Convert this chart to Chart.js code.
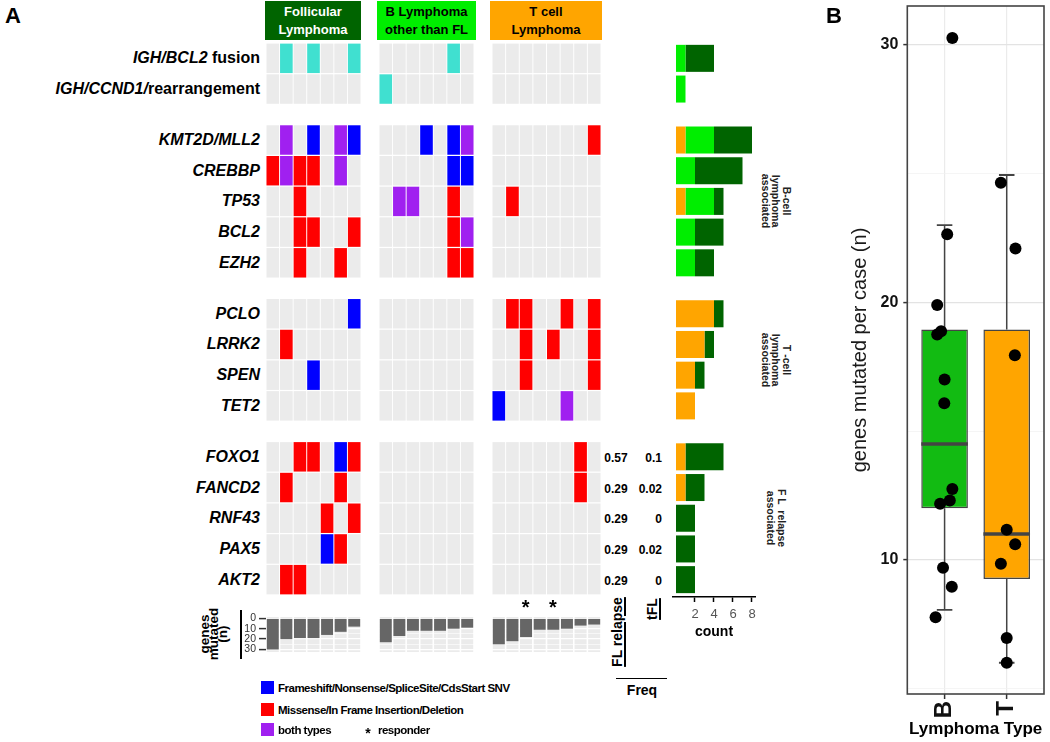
<!DOCTYPE html>
<html><head><meta charset="utf-8">
<script src="https://cdn.jsdelivr.net/npm/chart.js@4/dist/chart.umd.min.js"></script>
<style>
body{margin:0;background:#fff;width:1050px;height:742px;overflow:hidden;position:relative;font-family:"Liberation Sans",Arial,sans-serif;}
.t{position:absolute;white-space:pre;line-height:1;}
canvas{position:absolute;}
.box{position:absolute;display:flex;align-items:center;justify-content:center;text-align:center;font-weight:bold;font-size:13px;line-height:18px;white-space:pre;}
</style></head><body>
<script>
// ---------------- DATA ----------------
const geneRows = ['IGH/BCL2','IGH/CCND1/','KMT2D/MLL2','CREBBP','TP53','BCL2','EZH2','PCLO','LRRK2','SPEN','TET2','FOXO1','FANCD2','RNF43','PAX5','AKT2'];
const geneSuffix = [' fusion','rearrangement','','','','','','','','','','','','','',''];
const sectionSizes = [2,5,4,5];
const sectionLabels = ['', 'B-cell\nlymphoma\nassociated', 'T -cell\nlymphoma\nassociated', 'F L  relapse\nassociated'];
const groupNames = ['Follicular\nLymphoma','B Lymphoma\nother than FL','T cell\nLymphoma'];
// codes: 0 none, 1 Frameshift/Nonsense/SpliceSite/CdsStart SNV, 2 Missense/In Frame Insertion/Deletion, 3 both types, 4 fusion/rearrangement
const flMatrix = [
  [0,4,0,4,0,0,4],[0,0,0,0,0,0,0],
  [0,3,0,1,0,3,1],[2,3,2,2,0,3,0],[0,0,2,0,0,0,0],[0,0,2,2,0,0,2],[0,0,2,0,0,2,0],
  [0,0,0,0,0,0,1],[0,2,0,0,0,0,0],[0,0,0,1,0,0,0],[0,0,0,0,0,0,0],
  [0,0,2,2,0,1,2],[0,2,0,0,0,2,0],[0,0,0,0,2,0,2],[0,0,0,0,1,2,0],[0,2,2,0,0,0,0]
];
const bOtherMatrix = [
  [0,0,0,0,0,4,0],[4,0,0,0,0,0,0],
  [0,0,0,1,0,1,3],[0,0,0,0,0,1,1],[0,3,3,0,0,2,0],[0,0,0,0,0,2,3],[0,0,0,0,0,2,2],
  [0,0,0,0,0,0,0],[0,0,0,0,0,0,0],[0,0,0,0,0,0,0],[0,0,0,0,0,0,0],
  [0,0,0,0,0,0,0],[0,0,0,0,0,0,0],[0,0,0,0,0,0,0],[0,0,0,0,0,0,0],[0,0,0,0,0,0,0]
];
const tMatrix = [
  [0,0,0,0,0,0,0,0],[0,0,0,0,0,0,0,0],
  [0,0,0,0,0,0,0,2],[0,0,0,0,0,0,0,0],[0,2,0,0,0,0,0,0],[0,0,0,0,0,0,0,0],[0,0,0,0,0,0,0,0],
  [0,2,2,0,0,2,0,2],[0,0,2,0,2,0,0,2],[0,0,2,0,0,0,0,2],[1,0,0,0,0,3,0,0],
  [0,0,0,0,0,0,2,0],[0,0,0,0,0,0,2,0],[0,0,0,0,0,0,0,0],[0,0,0,0,0,0,0,0],[0,0,0,0,0,0,0,0]
];
const genesMutatedFL = [30,20,19,19,16,13,8];
const genesMutatedBOther = [23,17,12,12,12,10,9];
const genesMutatedT = [25,22,18,11,11,10,7,6];
const responderColsT = [3,5];
const freqRelapse = ['0.57','0.29','0.29','0.29','0.29'];
const freqTFL = ['0.1','0.02','0','0.02','0'];
const countTicks = [2,4,6,8];
const genesTicks = [0,5,10,15,20,25,30];
const legendItems = ['Frameshift/Nonsense/SpliceSite/CdsStart SNV','Missense/In Frame Insertion/Deletion','both types'];

// Panel B
const typeLabels = ['B','T'];
const bPointsY = [30.27,22.65,19.9,18.88,18.75,17.0,16.08,12.75,12.3,12.18,9.69,8.95,7.77];
const bPointsJit = [0.125,0.042,-0.119,-0.056,-0.119,0.0,-0.005,0.125,0.084,-0.072,-0.025,0.116,-0.145];
const tPointsY = [24.65,22.09,17.95,11.17,10.6,9.85,6.96,6.0];
const tPointsJit = [-0.094,0.141,0.131,0.0,0.136,-0.094,0.0,0.0];
const boxB = [8.05,12.0,14.5,18.95,23.0];   // lower whisker, q1, median, q3, upper whisker
const boxT = [6.0,9.25,11.0,18.95,24.95];
const bYTicks = [5,10,15,20,25,30];

// ---------------- STYLE / LAYOUT ----------------
Chart.defaults.font.family = '"Liberation Sans", Arial, sans-serif';
const CODE_COLORS = ['#ebebeb','#0000ff','#ff0000','#a020f0','#40e0d0'];
const GROUP_COLORS = ['#006400','#00ee00','#ffa500'];
const ROW_PX = 30.7, GAP = 0.66, TOP = 43, COLW = 13.6;
const rowPos = [];
const sectionStart = [];
{ let u = 0; sectionSizes.forEach(n => { sectionStart.push(u); for (let k=0;k<n;k++){ rowPos.push(u); u += 1; } u += GAP; }); }
const totalUnits = rowPos[rowPos.length-1] + 1;
const groupLeft = [266, 378.7, 491.7];
const matrices = [flMatrix, bOtherMatrix, tMatrix];
const genesMut = [genesMutatedFL, genesMutatedBOther, genesMutatedT];

const base = {responsive:false, animation:false, devicePixelRatio:1, events:[],
  plugins:{legend:{display:false}, tooltip:{enabled:false}}};
const noPad = s => { s.paddingTop = 0; s.paddingBottom = 0; s.paddingLeft = 0; s.paddingRight = 0; };

function makeCanvas(left, top, w, h){
  const c = document.createElement('canvas');
  c.width = w; c.height = h;
  c.style.left = left+'px'; c.style.top = top+'px';
  c.style.width = w+'px'; c.style.height = h+'px';
  document.body.appendChild(c);
  return c;
}
function addText(html, o){
  const d = document.createElement('div');
  d.className = 't';
  d.innerHTML = html;
  const s = d.style;
  s.fontSize = (o.size||12)+'px';
  s.fontWeight = o.weight||'bold';
  s.color = o.color||'#000';
  if (o.lh) s.lineHeight = o.lh+'px';
  s.textAlign = o.align||'center';
  if (o.anchor === 'right'){ s.right = (1050-o.x)+'px'; s.top = o.y+'px'; s.transform = 'translateY(-50%)'; }
  else if (o.anchor === 'left'){ s.left = o.x+'px'; s.top = o.y+'px'; s.transform = 'translateY(-50%)'; }
  else { s.left = o.x+'px'; s.top = o.y+'px'; s.transform = 'translate(-50%,-50%) rotate('+(o.rot||0)+'deg)'; }
  if (o.extra) Object.assign(s, o.extra);
  document.body.appendChild(d);
  return d;
}
function addRect(left, top, w, h, color){
  const d = document.createElement('div');
  Object.assign(d.style, {position:'absolute', left:left+'px', top:top+'px', width:w+'px', height:h+'px', background:color});
  document.body.appendChild(d);
}

// ---------------- HEATMAPS ----------------
matrices.forEach((m, g) => {
  const ncol = m[0].length;
  const w = Math.round(ncol*COLW), h = Math.round(totalUnits*ROW_PX);
  const c = makeCanvas(groupLeft[g], TOP, w, h);
  new Chart(c, {
    type:'bar',
    data:{
      labels: m[0].map((_,i)=>String(i+1)),
      datasets: m.map((row, r) => ({
        data: row.map(() => [rowPos[r]+0.02, rowPos[r]+0.98]),
        backgroundColor: row.map(code => CODE_COLORS[code]),
        borderWidth:0, grouped:false, barPercentage:0.93, categoryPercentage:1
      }))
    },
    options:{...base, layout:{padding:0},
      scales:{ x:{display:false}, y:{display:false, min:0, max:h/ROW_PX, reverse:true} } }
  });
});

// ---------------- COUNT BAR CHART ----------------
{
  const countOf = (m) => m.map(row => row.filter(v => v>0).length);
  const cT = countOf(tMatrix), cB = countOf(bOtherMatrix), cF = countOf(flMatrix);
  const areaH = 554, axisH = 45, left = 672, w = 84;
  const xmin = -(676-left)/9.5, xmax = xmin + w/9.5;
  const c = makeCanvas(left, TOP, w, areaH+axisH);
  const seg = (a, b) => geneRows.map((_, i) => ({y: rowPos[i]+0.5, x: (b[i]>a[i]) ? [a[i], b[i]] : null}));
  const s1 = cT, s2 = cT.map((v,i)=>v+cB[i]), s3 = s2.map((v,i)=>v+cF[i]);
  const zero = cT.map(()=>0);
  const mk = (data, col) => ({data, backgroundColor:col, borderWidth:0, grouped:false, barPercentage:0.88, categoryPercentage:1});
  new Chart(c, {
    type:'bar',
    data:{ datasets:[ mk(seg(zero,s1), GROUP_COLORS[2]), mk(seg(s1,s2), GROUP_COLORS[1]), mk(seg(s2,s3), GROUP_COLORS[0]) ] },
    options:{...base, indexAxis:'y', layout:{padding:0},
      scales:{
        y:{type:'linear', display:false, offset:false, min:0, max:areaH/ROW_PX, reverse:true,
           afterBuildTicks: s => { s.ticks = [{value:0}]; }},
        x:{type:'linear', min:xmin, max:xmax, offset:false, position:'bottom',
           afterBuildTicks: s => { s.ticks = countTicks.map(v=>({value:v})); },
           afterFit: s => { s.height = axisH; noPad(s); },
           ticks:{color:'#555', font:{size:13}, padding:5, maxRotation:0, autoSkip:false},
           grid:{display:true, drawOnChartArea:false, drawTicks:true, tickLength:5, tickColor:'#000', tickWidth:1.5, offset:false},
           border:{display:true, color:'#000', width:1.5},
           title:{display:true, text:'count', color:'#000', font:{size:14, weight:'bold'}, padding:{top:0,bottom:1}}
        }
      }}
  });
}

// ---------------- GENES MUTATED BARS ----------------
const panelBg = {id:'panelBg', beforeDraw(chart){
  const {ctx, chartArea:a, scales:{x}} = chart;
  const n = chart.data.labels.length;
  const w = (a.right-a.left)/n;
  ctx.save(); ctx.fillStyle = '#ebebeb';
  for (let i=0;i<n;i++){ const cx = x.getPixelForValue(i); ctx.fillRect(cx-w/2+0.8, a.top, w-1.6, a.bottom-a.top); }
  ctx.restore();
}};
genesMut.forEach((vals, g) => {
  const ncol = vals.length;
  const axisW = g===0 ? 30 : 0;
  const padT = 8, padB = 8;
  const w = Math.round(ncol*COLW), h = 35, top = 617;
  const pxu = 1.04, ymin = -(618.3-top)/pxu, ymax = ymin + h/pxu;
  const c = makeCanvas(groupLeft[g]-axisW, top-padT, w+axisW, h+padT+padB);
  new Chart(c, {
    type:'bar',
    data:{ labels: vals.map((_,i)=>String(i+1)),
      datasets:[{data: vals, backgroundColor:'#666', borderWidth:0, barPercentage:0.88, categoryPercentage:1}] },
    options:{...base, layout:{padding:{top:padT, bottom:padB, left:0, right:0}},
      scales:{
        x:{display:false},
        y:{min:ymin, max:ymax, reverse:true,
           afterBuildTicks: s => { s.ticks = genesTicks.map(v=>({value:v})); },
           afterFit: s => { s.width = axisW; noPad(s); },
           ticks:{display: g===0, callback: v => (v%10===0 ? v : ''), color:'#333', font:{size:10.5}, padding:3, autoSkip:false},
           grid:{color:'#fff', lineWidth: ctx => (ctx.tick && ctx.tick.value%10===0) ? 1.2 : 0.6,
                 drawTicks: g===0, tickLength:7,
                 tickColor: ctx => (ctx.tick && ctx.tick.value%10===0) ? '#333' : 'rgba(0,0,0,0)', tickWidth:1.5},
           border:{display:false}
        }
      }},
    plugins:[panelBg]
  });
});

// ---------------- PANEL B ----------------
{
  const c = makeCanvas(820, 0, 230, 742);
  const frame = {id:'frame', afterDatasetsDraw(chart){
    const {ctx, chartArea:a} = chart; ctx.save(); ctx.strokeStyle='#444'; ctx.lineWidth=1.6;
    ctx.strokeRect(a.left, a.top, a.right-a.left, a.bottom-a.top); ctx.restore(); }};
  const boxStats = [boxB, boxT];
  const boxColors = ['#12bb12', GROUP_COLORS[2]];
  const line = (data, order, width) => ({type:'line', order, data, borderColor:'#444', borderWidth:width, pointRadius:0, borderCapStyle:'butt', fill:false});
  const ds = [];
  ds.push({type:'scatter', order:0,
    data: [...bPointsY.map((y,i)=>({x:1+bPointsJit[i], y})), ...tPointsY.map((y,i)=>({x:2+tPointsJit[i], y}))],
    backgroundColor:'#000', borderWidth:0, pointRadius:6});
  boxStats.forEach((s,g) => ds.push(line([{x:g+1-0.375,y:s[2]},{x:g+1+0.375,y:s[2]}], 1, 3.5)));
  ds.push({type:'bar', order:2, data: boxStats.map((s,g)=>({x:g+1, y:[s[1],s[3]]})),
    backgroundColor: boxColors, borderColor:'#444', borderWidth:1.5, borderSkipped:false, barPercentage:0.75, categoryPercentage:1});
  boxStats.forEach((s,g) => {
    ds.push(line([{x:g+1,y:s[3]},{x:g+1,y:s[4]}], 3, 1.5));
    ds.push(line([{x:g+1,y:s[1]},{x:g+1,y:s[0]}], 3, 1.5));
    ds.push(line([{x:g+1-0.125,y:s[4]},{x:g+1+0.125,y:s[4]}], 3, 1.8));
    ds.push(line([{x:g+1-0.125,y:s[0]},{x:g+1+0.125,y:s[0]}], 3, 1.8));
  });
  new Chart(c, {
    type:'bar',
    data:{datasets: ds},
    options:{...base, layout:{padding:{top:2, right:1, left:0, bottom:0}},
      scales:{
        x:{type:'linear', min:0.4, max:2.6, offset:false,
           afterBuildTicks: s => { s.ticks = [1,2].map(v=>({value:v})); },
           afterFit: s => { s.height = 48; noPad(s); },
           ticks:{callback: v => typeLabels[v-1], minRotation:90, maxRotation:90, autoSkip:false, color:'#111', font:{size:24, weight:'bold'}, padding:2},
           grid:{color:'#ebebeb', lineWidth:1.2, tickColor:'#333', tickLength:5, tickWidth:1.5, offset:false},
           border:{display:false},
           title:{display:true, text:'Lymphoma Type', color:'#000', font:{size:17, weight:'bold'}, padding:{top:0, bottom:2}}
        },
        y:{type:'linear', min:4.785, max:31.515,
           afterBuildTicks: s => { s.ticks = bYTicks.map(v=>({value:v})); },
           afterFit: s => { s.width = 87.3; noPad(s); },
           ticks:{callback: v => (v%10===0 ? v : ''), color:'#111', font:{size:16, weight:'bold'}, padding:5, autoSkip:false},
           grid:{color: ctx => (ctx.tick && ctx.tick.value%10===0) ? '#e3e3e3' : '#f0f0f0',
                 lineWidth: ctx => (ctx.tick && ctx.tick.value%10===0) ? 1.2 : 0.7,
                 tickColor: ctx => (ctx.tick && ctx.tick.value%10===0) ? '#333' : 'rgba(0,0,0,0)', tickLength:4, tickWidth:1.5},
           border:{display:false},
           title:{display:true, text:'genes mutated per case (n)', color:'#1a1a1a', font:{size:20, weight:'normal'}, padding:{top:28, bottom:0}}
        }
      }},
    plugins:[frame]
  });
}

// ---------------- TEXT ----------------
addText('A', {x:13, y:16, size:22});
addText('B', {x:834, y:16, size:22});
// group headers
[[265,96],[377,99],[490,112]].forEach((p, g) => {
  const d = document.createElement('div');
  d.className = 'box';
  Object.assign(d.style, {left:p[0]+'px', top:'1px', width:p[1]+'px', height:'39px', background:GROUP_COLORS[g], color: g===0 ? '#fff' : '#000'});
  d.textContent = groupNames[g];
  document.body.appendChild(d);
});
// gene labels
geneRows.forEach((gname, i) => {
  addText('<i>'+gname+'</i>'+geneSuffix[i], {x:260, y:TOP+(rowPos[i]+0.5)*ROW_PX, size:16, anchor:'right'});
});
// section labels (right side)
sectionLabels.forEach((lab, si) => {
  if (!lab) return;
  const cy = TOP + (sectionStart[si] + sectionSizes[si]/2)*ROW_PX;
  addText(lab, {x:776, y:cy, size:10.5, lh:10.5, rot:90, color:'#222'});
});
// freq values
const flStart = rowPos.length - freqRelapse.length;
freqRelapse.forEach((v,i) => {
  const cy = TOP + (rowPos[flStart+i]+0.5)*ROW_PX + 1;
  addText(v, {x:616, y:cy, size:12});
  addText(freqTFL[i], {x:662, y:cy, size:12, anchor:'right'});
});
addText('FL relapse', {x:617, y:632, size:14, rot:-90, extra:{textDecoration:'underline', textDecorationThickness:'1.5px', textUnderlineOffset:'2px'}});
addText('tFL', {x:652, y:608.5, size:14, rot:-90, extra:{textDecoration:'underline', textDecorationThickness:'1.5px', textUnderlineOffset:'2px'}});
addRect(616, 677.5, 51, 1.5, '#000');
addText('Freq', {x:642, y:690, size:14});
// responders
responderColsT.forEach(ci => addText('*', {x:groupLeft[2]+(ci-0.5)*COLW, y:607, size:20}));
// genes mutated label
addText('genes\nmutated\n(n)', {x:213, y:634, size:13.5, lh:9, rot:-90});
addRect(239.5, 610, 2, 49, '#000');
// legend
const legTops = [681, 703, 723];
legendItems.forEach((t, i) => {
  addRect(261, legTops[i], 13, 13, CODE_COLORS[i+1]);
  addText(t, {x:278, y:legTops[i]+7.5, size:11.5, anchor:'left', align:'left', extra:{letterSpacing:'-0.5px'}});
});
addText('*', {x:368, y:733, size:14});
addText('responder', {x:378, y:731, size:11.5, anchor:'left', align:'left', extra:{letterSpacing:'-0.5px'}});
</script>
</body></html>
